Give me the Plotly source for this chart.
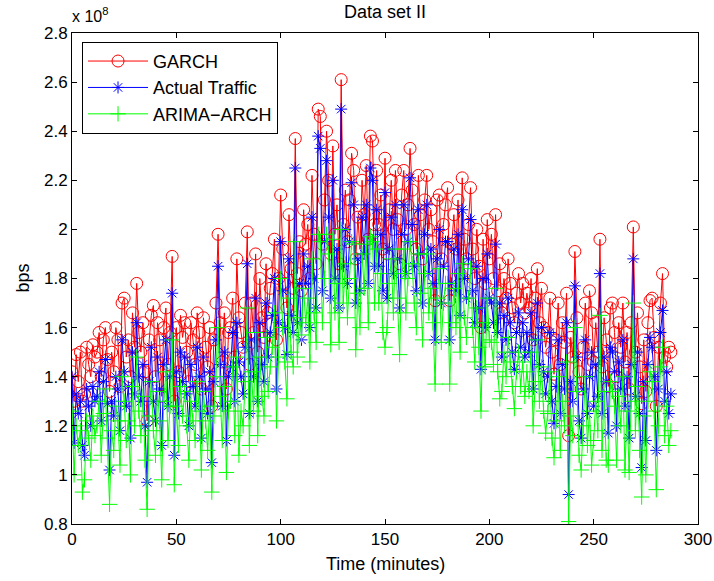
import plotly.graph_objects as go

minutes = list(range(0, 288))

# Actual traffic (x 10^8 bps)
actual = [
    1.40, 1.13, 1.33, 1.25, 1.30, 1.12, 1.08, 1.35, 1.28, 1.20, 1.36, 1.30,
    1.32, 1.42, 1.22, 1.38, 1.47, 1.29, 1.02, 1.30, 1.24, 1.40, 1.35, 1.18,
    1.55, 1.42, 1.28, 1.36, 1.15, 1.50, 1.33, 1.62, 1.40, 1.30, 1.45, 1.20,
    0.97, 1.38, 1.52, 1.30, 1.22, 1.48, 1.35, 1.12, 1.45, 1.55, 1.28, 1.40,
    1.74, 1.08, 1.42, 1.25, 1.50, 1.38, 1.48, 1.33, 1.20, 1.45, 1.36, 1.28,
    1.52, 1.40, 1.15, 1.48, 1.35, 1.25, 1.42, 1.05, 1.38, 1.55, 1.85, 1.45,
    1.28, 1.50, 1.14, 1.40, 1.44, 1.58, 1.30, 1.62, 1.46, 1.40, 1.33, 1.52,
    1.86, 1.25, 1.55, 1.40, 1.72, 1.30, 1.62, 1.45, 1.38, 1.70, 1.48, 1.58,
    1.65, 1.80, 1.35, 1.62, 1.95, 1.75, 1.60, 1.49, 1.88, 1.65, 1.58, 2.25,
    1.62, 1.78, 1.55, 1.90, 1.78, 1.85, 1.60, 2.05, 1.80, 1.68, 2.38, 2.33,
    1.75, 1.95, 2.28, 2.05, 1.72, 2.20, 1.80, 1.92, 1.68, 2.49, 1.85, 2.00,
    1.78, 1.95, 2.19, 2.10, 1.70, 1.88, 1.75, 2.05, 1.90, 2.10, 1.78, 2.25,
    2.20, 1.85, 2.08, 1.85, 1.98, 1.75, 2.15, 1.72, 1.92, 2.05, 1.82, 2.10,
    1.88, 1.68, 1.98, 2.10, 1.82, 1.95, 2.21, 2.02, 1.85, 1.75, 2.08, 1.90,
    1.70, 1.98, 2.10, 1.82, 1.92, 1.78, 1.55, 1.88, 2.00, 1.70, 1.85, 1.95,
    1.95, 1.55, 1.78, 1.92, 1.75, 1.98, 1.65, 2.08, 1.80, 1.72, 1.88, 2.04,
    1.75, 1.62, 1.85, 1.68, 1.43, 1.80, 1.60, 1.90, 1.72, 1.70, 1.62, 1.94,
    1.58, 1.70, 1.48, 1.65, 1.55, 1.72, 1.62, 1.50, 1.43, 1.58, 1.66, 1.52,
    1.62, 1.48, 1.58, 1.50, 1.66, 1.35, 1.55, 1.70, 1.45, 1.60, 1.42, 1.33,
    1.40, 1.58, 1.30, 1.21, 1.36, 1.55, 1.25, 1.45, 1.35, 1.62, 0.92, 1.38,
    1.30, 1.77, 1.48, 1.22, 1.15, 1.35, 1.55, 1.25, 1.40, 1.50, 1.28, 1.45,
    1.32, 1.82, 1.25, 1.48, 1.38, 1.17, 1.52, 1.50, 1.42, 1.20, 1.46, 1.35,
    1.55, 1.28, 1.40, 1.15, 1.45, 1.88, 1.32, 1.50, 1.25, 1.03, 1.38, 1.14,
    1.45, 1.56, 1.52, 1.40, 1.10, 1.35, 1.58, 1.67, 1.30, 1.42, 1.25, 1.33,
]

# GARCH prediction (x 10^8 bps)
garch = [
    1.42, 1.30, 1.49, 1.38, 1.50, 1.30, 1.33, 1.52, 1.45, 1.40, 1.53, 1.48,
    1.50, 1.58, 1.40, 1.55, 1.60, 1.47, 1.34, 1.50, 1.42, 1.60, 1.55, 1.36,
    1.70, 1.72, 1.48, 1.55, 1.40, 1.66, 1.52, 1.78, 1.58, 1.50, 1.62, 1.42,
    1.22, 1.55, 1.65, 1.69, 1.40, 1.62, 1.55, 1.32, 1.60, 1.68, 1.45, 1.58,
    1.89, 1.30, 1.60, 1.42, 1.65, 1.56, 1.62, 1.50, 1.38, 1.62, 1.55, 1.45,
    1.66, 1.58, 1.35, 1.64, 1.52, 1.44, 1.60, 1.28, 1.55, 1.70, 1.98, 1.62,
    1.46, 1.66, 1.35, 1.58, 1.60, 1.72, 1.48, 1.88, 1.64, 1.58, 1.52, 1.70,
    1.99, 1.45, 1.70, 1.58, 1.90, 1.50, 1.80, 1.64, 1.56, 1.86, 1.66, 1.76,
    1.82, 1.96, 1.55, 1.80, 2.14, 1.92, 1.78, 1.68, 2.06, 1.84, 1.76, 2.37,
    1.82, 1.95, 1.75, 2.08, 1.94, 2.02, 1.80, 2.22, 1.98, 1.86, 2.49, 2.46,
    1.94, 2.12, 2.40, 2.20, 1.90, 2.34, 1.98, 2.10, 1.86, 2.61, 2.02, 2.16,
    1.95, 2.12, 2.31, 2.24, 1.88, 2.05, 1.92, 2.20, 2.06, 2.26, 1.96, 2.38,
    2.36, 2.02, 2.24, 2.02, 2.14, 1.92, 2.29, 1.90, 2.08, 2.20, 2.00, 2.24,
    2.04, 1.86, 2.14, 2.24, 2.00, 2.10, 2.33, 2.16, 2.02, 1.92, 2.22, 2.06,
    1.88, 2.12, 2.22, 2.00, 2.08, 1.95, 1.71, 2.12, 2.14, 1.88, 2.02, 2.10,
    2.17, 1.71, 1.94, 2.06, 1.92, 2.12, 1.82, 2.21, 1.96, 1.88, 2.02, 2.17,
    1.92, 1.80, 2.00, 1.85, 1.60, 1.96, 1.78, 2.04, 1.88, 1.98, 1.80, 2.06,
    1.75, 1.86, 1.66, 1.80, 1.72, 1.88, 1.78, 1.68, 1.62, 1.74, 1.82, 1.70,
    1.78, 1.66, 1.74, 1.68, 1.80, 1.55, 1.72, 1.84, 1.62, 1.76, 1.60, 1.52,
    1.58, 1.72, 1.50, 1.41, 1.55, 1.70, 1.45, 1.62, 1.54, 1.74, 1.16, 1.56,
    1.48, 1.91, 1.64, 1.42, 1.35, 1.52, 1.70, 1.45, 1.75, 1.66, 1.46, 1.62,
    1.50, 1.96, 1.44, 1.64, 1.55, 1.36, 1.68, 1.70, 1.58, 1.40, 1.62, 1.52,
    1.70, 1.46, 1.58, 1.35, 1.62, 2.01, 1.50, 1.66, 1.44, 1.29, 1.55, 1.34,
    1.62, 1.71, 1.72, 1.56, 1.28, 1.52, 1.70, 1.82, 1.48, 1.44, 1.52, 1.50,
]

# ARIMA-ARCH prediction (x 10^8 bps)
arima_arch = [
    1.26, 1.00, 1.20, 1.12, 1.18, 0.93, 0.98, 1.22, 1.15, 1.06, 1.24, 1.16,
    1.20, 1.30, 1.08, 1.25, 1.35, 1.15, 0.88, 1.18, 1.10, 1.28, 1.22, 1.04,
    1.40, 1.30, 1.14, 1.22, 1.00, 1.36, 1.20, 1.48, 1.26, 1.16, 1.32, 1.06,
    0.86, 1.24, 1.38, 1.18, 1.08, 1.34, 1.22, 0.98, 1.30, 1.42, 1.14, 1.28,
    1.55, 0.96, 1.28, 1.12, 1.36, 1.24, 1.34, 1.20, 1.06, 1.30, 1.22, 1.14,
    1.38, 1.26, 1.02, 1.34, 1.22, 1.10, 1.28, 0.93, 1.24, 1.40, 1.60, 1.32,
    1.14, 1.36, 1.01, 1.26, 1.30, 1.44, 1.16, 1.48, 1.08, 1.26, 1.20, 1.38,
    1.68, 1.12, 1.42, 1.26, 1.58, 1.16, 1.48, 1.32, 1.24, 1.56, 1.34, 1.44,
    1.52, 1.66, 1.22, 1.48, 1.80, 1.60, 1.46, 1.31, 1.72, 1.50, 1.44, 1.95,
    1.48, 1.64, 1.57, 1.76, 1.62, 1.72, 1.46, 1.88, 1.66, 1.54, 1.98, 1.95,
    1.62, 1.80, 1.98, 1.90, 1.53, 1.96, 1.66, 1.78, 1.54, 2.00, 1.70, 1.86,
    1.64, 1.80, 1.95, 1.94, 1.51, 1.74, 1.60, 1.90, 1.76, 1.94, 1.62, 1.97,
    1.95, 1.70, 1.92, 1.70, 1.82, 1.58, 1.52, 1.60, 1.78, 1.88, 1.66, 1.92,
    1.72, 1.49, 1.82, 1.92, 1.66, 1.80, 1.95, 1.86, 1.70, 1.60, 1.90, 1.74,
    1.55, 1.82, 1.90, 1.66, 1.76, 1.62, 1.37, 1.72, 1.84, 1.54, 1.70, 1.78,
    1.78, 1.37, 1.62, 1.76, 1.60, 1.82, 1.50, 1.86, 1.64, 1.56, 1.72, 1.84,
    1.60, 1.46, 1.68, 1.52, 1.26, 1.62, 1.44, 1.72, 1.55, 1.54, 1.45, 1.76,
    1.42, 1.31, 1.34, 1.50, 1.40, 1.56, 1.46, 1.36, 1.27, 1.42, 1.50, 1.36,
    1.46, 1.32, 1.42, 1.34, 1.50, 1.20, 1.38, 1.55, 1.30, 1.44, 1.26, 1.17,
    1.25, 1.42, 1.15, 1.07, 1.22, 1.40, 1.10, 1.30, 1.20, 1.46, 0.81, 1.24,
    1.16, 1.60, 1.34, 1.08, 1.02, 1.20, 1.40, 1.12, 1.26, 1.04, 1.14, 1.30,
    1.18, 1.65, 1.10, 1.34, 1.06, 1.04, 1.38, 1.34, 1.28, 1.06, 1.32, 1.20,
    1.40, 1.02, 1.26, 1.01, 1.30, 1.70, 1.18, 1.36, 1.10, 0.91, 1.24, 1.00,
    1.30, 1.42, 1.38, 1.26, 0.94, 1.20, 1.44, 1.52, 1.16, 1.28, 1.12, 1.18,
]

x_ticks = [0, 50, 100, 150, 200, 250, 300]
y_ticks = [0.8, 1.0, 1.2, 1.4, 1.6, 1.8, 2.0, 2.2, 2.4, 2.6, 2.8]
y_tick_labels = ["0.8", "1", "1.2", "1.4", "1.6", "1.8", "2", "2.2", "2.4", "2.6", "2.8"]

FONT = "Liberation Sans"

fig = go.Figure()
fig.add_trace(go.Scatter(
    x=minutes, y=garch, name="GARCH", mode="lines+markers",
    line=dict(color="#ff0000", width=1),
    marker=dict(symbol="circle-open", size=12, color="#ff0000", line=dict(width=1)),
))
fig.add_trace(go.Scatter(
    x=minutes, y=actual, name="Actual Traffic", mode="lines+markers",
    line=dict(color="#0000ff", width=1),
    marker=dict(symbol="asterisk-open", size=10, color="#0000ff", line=dict(width=1, color="#0000ff")),
))
fig.add_trace(go.Scatter(
    x=minutes, y=arima_arch, name="ARIMA\u2212ARCH", mode="lines+markers",
    line=dict(color="#00ff00", width=1),
    marker=dict(symbol="cross-thin-open", size=11, color="#00ff00", line=dict(width=1, color="#00ff00")),
))

axis_common = dict(
    showline=True, linecolor="black", linewidth=1, mirror="ticks",
    ticks="inside", ticklen=5, tickcolor="black", tickwidth=1,
    showgrid=False, zeroline=False, automargin=False,
    tickfont=dict(family=FONT, size=17, color="black"),
)

fig.update_layout(
    width=714, height=581,
    margin=dict(l=72, r=16, t=33, b=57),
    paper_bgcolor="white", plot_bgcolor="white",
    font=dict(family=FONT, size=17, color="black"),
    showlegend=True,
    legend=dict(
        x=0.016, y=0.982, xanchor="left", yanchor="top",
        bgcolor="white", bordercolor="black", borderwidth=1,
        font=dict(family=FONT, size=18, color="black"),
        itemwidth=60, tracegroupgap=0,
    ),
    xaxis=dict(range=[0, 300], tickvals=x_ticks, **axis_common),
    yaxis=dict(range=[0.8, 2.8], tickvals=y_ticks, ticktext=y_tick_labels, **axis_common),
    annotations=[
        dict(text="Data set II", x=0.5, y=1.0, xref="paper", yref="paper",
             xanchor="center", yanchor="bottom", yshift=9, showarrow=False,
             font=dict(family=FONT, size=18, color="black")),
        dict(text="x 10<sup>8</sup>", x=0.0, y=1.0, xref="paper", yref="paper",
             xanchor="left", yanchor="bottom", xshift=-2, yshift=6, showarrow=False,
             font=dict(family=FONT, size=16, color="black")),
        dict(text="Time (minutes)", x=0.5, y=0.0, xref="paper", yref="paper",
             xanchor="center", yanchor="middle", yshift=-40, showarrow=False,
             font=dict(family=FONT, size=18, color="black")),
        dict(text="bps", x=0.0, y=0.5, xref="paper", yref="paper",
             xanchor="center", yanchor="middle", xshift=-50, textangle=-90,
             showarrow=False, font=dict(family=FONT, size=18, color="black")),
    ],
)

# Remove the default page margin so the figure fills the window exactly.
fig.write_html("out.html", config={"displayModeBar": False},
               post_script="document.body.style.margin='0';")
